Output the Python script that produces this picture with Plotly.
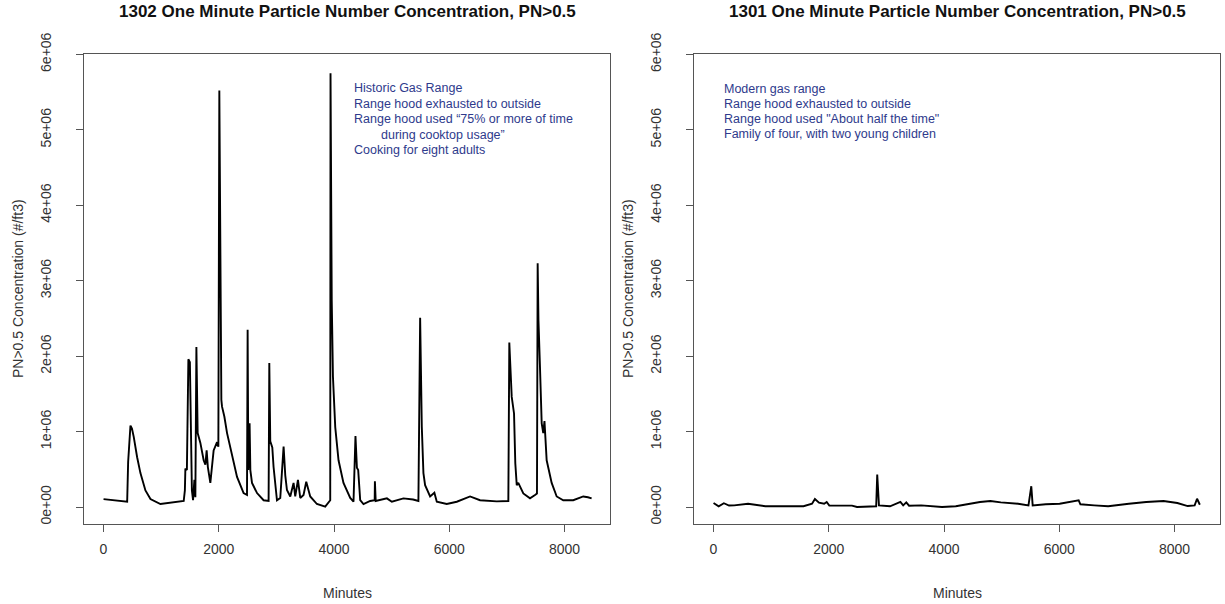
import plotly.graph_objects as go

# ---------------- data ----------------
left_minutes = [1, 208, 411, 428, 468, 494, 525, 584, 641, 728, 815, 988, 1218, 1392, 1412, 1421,
                1447, 1473, 1499, 1516, 1534, 1554, 1577, 1594, 1612, 1634, 1681, 1738, 1768, 1790,
                1811, 1854, 1911, 1970, 1993, 2010, 2019, 2045, 2057, 2097, 2144, 2230, 2317, 2431,
                2490, 2501, 2513, 2535, 2548, 2577, 2664, 2778, 2865, 2877, 2894, 2929, 2951, 3010,
                3067, 3125, 3154, 3183, 3241, 3298, 3327, 3374, 3414, 3471, 3518, 3587, 3703, 3847,
                3934, 3939, 3948, 3960, 3981, 4021, 4078, 4164, 4281, 4338, 4372, 4397, 4419, 4454,
                4511, 4627, 4705, 4709, 4723, 4917, 5003, 5204, 5372, 5464, 5494, 5523, 5551, 5580,
                5667, 5741, 5783, 5956, 6130, 6360, 6533, 6823, 7024, 7041, 7053, 7083, 7123, 7145,
                7170, 7197, 7284, 7400, 7487, 7521, 7533, 7547, 7573, 7603, 7630, 7651, 7689, 7776,
                7863, 7977, 8150, 8324, 8405, 8469]
left_values = [1.05e5, 0.90e5, 0.70e5, 6.0e5, 1.08e6, 1.04e6, 9.3e5, 6.6e5, 4.5e5, 2.2e5, 1.05e5,
               4.0e4, 6.0e4, 8.0e4, 2.2e5, 5.1e5, 4.9e5, 1.96e6, 1.92e6, 8.8e5, 2.2e5, 9.0e4, 3.6e5,
               1.3e5, 2.12e6, 9.8e5, 8.5e5, 6.2e5, 5.6e5, 7.5e5, 5.3e5, 3.2e5, 7.5e5, 8.6e5, 8.0e5,
               5.52e6, 4.01e6, 1.42e6, 1.33e6, 1.20e6, 9.8e5, 6.7e5, 4.0e5, 1.85e5, 1.6e5, 2.35e6,
               4.9e5, 1.11e6, 4.9e5, 3.2e5, 1.85e5, 9.0e4, 8.0e4, 1.91e6, 8.7e5, 7.9e5, 5.3e5, 9.0e4,
               1.2e5, 8.0e5, 4.2e5, 2.25e5, 1.4e5, 3.2e5, 1.4e5, 3.6e5, 1.2e5, 1.6e5, 3.35e5, 1.4e5,
               4.0e4, 5.0e3, 9.0e4, 5.75e6, 4.56e6, 2.74e6, 1.73e6, 1.06e6, 6.2e5, 3.2e5, 1.2e5, 7.0e4,
               9.4e5, 5.2e5, 4.9e5, 9.0e4, 4.0e4, 8.0e4, 9.0e4, 3.4e5, 8.0e4, 1.15e5, 7.0e4, 1.15e5,
               1.0e5, 8.0e4, 2.51e6, 1.06e6, 4.5e5, 2.9e5, 1.4e5, 1.9e5, 7.0e4, 4.0e4, 7.0e4, 1.4e5,
               9.0e4, 7.5e4, 8.0e4, 2.18e6, 1.97e6, 1.46e6, 1.24e6, 5.8e5, 2.9e5, 3.2e5, 1.8e5, 1.15e5,
               1.6e5, 1.8e5, 3.23e6, 2.47e6, 1.86e6, 1.11e6, 9.8e5, 1.14e6, 6.2e5, 3.2e5, 1.4e5, 9.0e4,
               9.0e4, 1.4e5, 1.3e5, 1.15e5]

right_minutes = [1, 90, 180, 270, 360, 600, 900, 1200, 1562, 1710, 1760, 1830, 1920, 1964, 2010,
                 2402, 2490, 2823, 2841, 2871, 3063, 3243, 3291, 3345, 3393, 3604, 3964, 4204, 4474,
                 4624, 4805, 4985, 5285, 5465, 5514, 5538, 5766, 6006, 6336, 6366, 6606, 6847, 7207,
                 7508, 7808, 8048, 8228, 8348, 8390, 8438]
right_values = [5.3e4, 1.0e4, 5.0e4, 2.0e4, 2.2e4, 4.4e4, 1.0e4, 1.0e4, 1.0e4, 4.4e4, 1.07e5, 5.8e4,
                4.4e4, 6.7e4, 1.8e4, 1.8e4, 0.0e0, 1.0e4, 4.3e5, 2.2e4, 1.0e4, 6.7e4, 2.2e4, 6.2e4,
                1.8e4, 2.2e4, 0.0e0, 1.0e4, 5.3e4, 6.7e4, 8.0e4, 6.2e4, 4.4e4, 2.2e4, 2.76e5, 2.2e4,
                3.6e4, 4.4e4, 8.9e4, 3.6e4, 2.2e4, 1.0e4, 4.4e4, 6.7e4, 8.0e4, 5.3e4, 1.3e4, 2.2e4,
                1.1e5, 3.0e4]

x_ticks = [0, 2000, 4000, 6000, 8000]
y_ticks = [0, 1e6, 2e6, 3e6, 4e6, 5e6, 6e6]
y_tick_labels = ["0e+00", "1e+06", "2e+06", "3e+06", "4e+06", "5e+06", "6e+06"]

left_title = "1302 One Minute Particle Number Concentration, PN>0.5"
right_title = "1301 One Minute Particle Number Concentration, PN>0.5"
y_title = "PN>0.5 Concentration (#/ft3)"
x_title = "Minutes"
left_notes = ["Historic Gas Range", "Range hood exhausted to outside",
              "Range hood used \u201c75% or more of time", "during cooktop usage\u201d",
              "Cooking for eight adults"]
left_note_indent = [0, 0, 0, 1, 0]
right_notes = ["Modern gas range", "Range hood exhausted to outside",
               "Range hood used \"About half the time\"", "Family of four, with two young children"]

# ---------------- layout geometry ----------------
W, H = 1225, 604
FONT = "Liberation Sans, Arial, Helvetica, sans-serif"
NOTE_COLOR = "#2e3a8c"
box_top, box_bot = 54, 524
left_box = (84, 610)
right_box = (694, 1220)

def px_x(p):
    return p / W

def px_y(p):
    return 1 - p / H

fig = go.Figure()
fig.add_trace(go.Scatter(x=left_minutes, y=left_values, mode="lines",
                         line=dict(color="black", width=1.9), xaxis="x", yaxis="y",
                         showlegend=False))
fig.add_trace(go.Scatter(x=right_minutes, y=right_values, mode="lines",
                         line=dict(color="black", width=1.9), xaxis="x2", yaxis="y2",
                         showlegend=False))

xr = [-338, 8788]
yr = [-0.225e6, 6.005e6]
axis_common = dict(showgrid=False, zeroline=False, showline=True, mirror=True,
                   linecolor="#555", linewidth=1, ticks="outside", ticklen=7,
                   tickcolor="#555", tickwidth=1, automargin=False,
                   tickfont=dict(family=FONT, size=14, color="#333"))

fig.update_layout(
    width=W, height=H, margin=dict(l=0, r=0, t=0, b=0, autoexpand=False),
    paper_bgcolor="white", plot_bgcolor="white",
    xaxis=dict(domain=[px_x(left_box[0]), px_x(left_box[1])], range=xr,
               tickvals=x_ticks, anchor="y", ticklabelstandoff=5, **axis_common),
    yaxis=dict(domain=[px_y(box_bot), px_y(box_top)], range=yr, tickvals=y_ticks,
               ticktext=y_tick_labels, tickangle=-90, anchor="x",
               ticklabelstandoff=19, **axis_common),
    xaxis2=dict(domain=[px_x(right_box[0]), px_x(right_box[1])], range=xr,
                tickvals=x_ticks, anchor="y2", ticklabelstandoff=5, **axis_common),
    yaxis2=dict(domain=[px_y(box_bot), px_y(box_top)], range=yr, tickvals=y_ticks,
                ticktext=y_tick_labels, tickangle=-90, anchor="x2",
                ticklabelstandoff=19, **axis_common),
)

ann = []
for (bx0, bx1), title in [(left_box, left_title), (right_box, right_title)]:
    cx = (bx0 + bx1) / 2
    ann.append(dict(text="<b>%s</b>" % title, x=px_x(cx), y=px_y(12), xref="paper", yref="paper",
                    xanchor="center", yanchor="middle", showarrow=False,
                    font=dict(family=FONT, size=17, color="#111")))
    ann.append(dict(text=x_title, x=px_x(cx), y=px_y(593), xref="paper", yref="paper",
                    xanchor="center", yanchor="middle", showarrow=False,
                    font=dict(family=FONT, size=14, color="#333")))
    ann.append(dict(text=y_title, x=px_x(bx0 - 66), y=px_y((box_top + box_bot) / 2),
                    xref="paper", yref="paper", xanchor="center", yanchor="middle",
                    textangle=-90, showarrow=False,
                    font=dict(family=FONT, size=14, color="#333")))

for i, line in enumerate(left_notes):
    ann.append(dict(text=line, x=px_x(352 + 27 * left_note_indent[i]), y=px_y(88 + 15.5 * i),
                    xref="paper", yref="paper", xanchor="left", yanchor="middle",
                    showarrow=False, font=dict(family=FONT, size=12.5, color=NOTE_COLOR)))
for i, line in enumerate(right_notes):
    ann.append(dict(text=line, x=px_x(722), y=px_y(89 + 15 * i),
                    xref="paper", yref="paper", xanchor="left", yanchor="middle",
                    showarrow=False, font=dict(family=FONT, size=12.5, color=NOTE_COLOR)))

fig.update_layout(annotations=ann)
fig.write_html("out.html")
